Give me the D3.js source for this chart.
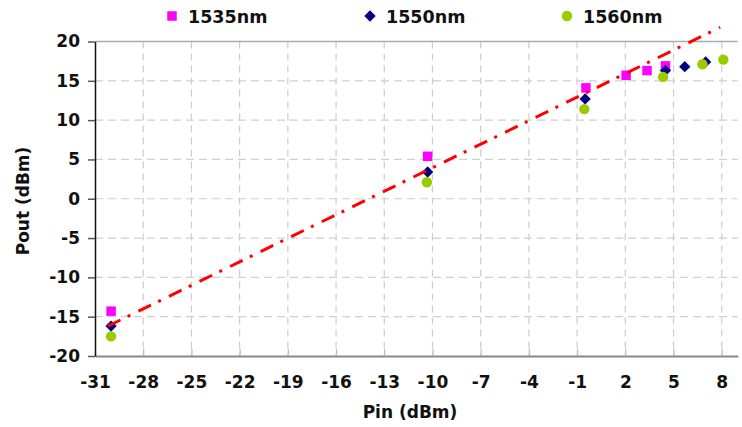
<!DOCTYPE html>
<html>
<head>
<meta charset="utf-8">
<script src="https://cdn.jsdelivr.net/npm/d3@7"></script>
<style>
  html, body { margin: 0; padding: 0; background: #fff; }
  svg text { font-family: "DejaVu Sans", Verdana, sans-serif; fill: #111; }
</style>
</head>
<body>
<svg id="chart" width="742" height="427"></svg>
<script>
// Input power ticks (dBm) and output power ticks (dBm)
const pinTicks = [-31, -28, -25, -22, -19, -16, -13, -10, -7, -4, -1, 2, 5, 8];
const poutTicks = [-20, -15, -10, -5, 0, 5, 10, 15, 20];

// Measured points per wavelength
const pin1535 = [-30.0, -10.3, -0.45, 2.05, 3.35, 4.5];
const pout1535 = [-14.3, 5.4, 14.1, 15.7, 16.3, 16.9];
const pin1550 = [-30.0, -10.3, -0.5, 4.5, 5.7, 7.0];
const pout1550 = [-16.2, 3.4, 12.7, 16.3, 16.8, 17.4];
const pin1560 = [-30.0, -10.35, -0.55, 4.35, 6.8, 8.1];
const pout1560 = [-17.5, 2.1, 11.4, 15.5, 17.1, 17.7];

// Small-signal linear trend
const trendPin = [-30.2, 7.9];
const trendPout = [-16.2, 21.8];

const seriesNames = ["1535nm", "1550nm", "1560nm"];
const seriesColors = ["#ff00ff", "#000080", "#99cc00"];
const seriesShapes = [d3.symbolSquare, d3.symbolSquare, d3.symbolCircle];
const seriesSizes = [90, 64, 85];
const seriesRotation = [0, 45, 0];

const series = [
  { pin: pin1535, pout: pout1535 },
  { pin: pin1550, pout: pout1550 },
  { pin: pin1560, pout: pout1560 }
];

const svg = d3.select("#chart");
const x = d3.scaleLinear().domain([-31, 9]).range([95, 737.8]);
const y = d3.scaleLinear().domain([-20, 20]).range([356, 41.5]);
const fmt = d => String(d);

// Grid
const grid = svg.append("g");
grid.selectAll("line.v").data(pinTicks.slice(1)).join("line")
  .attr("x1", d => x(d)).attr("x2", d => x(d))
  .attr("y1", y(20)).attr("y2", y(-20))
  .attr("stroke", "#cccccc").attr("stroke-width", 1.2)
  .attr("stroke-dasharray", "7,5");
grid.selectAll("line.h").data(poutTicks.slice(1, -1)).join("line")
  .attr("x1", x(-31)).attr("x2", x(9))
  .attr("y1", d => y(d)).attr("y2", d => y(d))
  .attr("stroke", "#d0d0d0").attr("stroke-width", 1.2)
  .attr("stroke-dasharray", "8,5");
// top border
svg.append("line")
  .attr("x1", x(-31)).attr("x2", x(9))
  .attr("y1", y(20)).attr("y2", y(20))
  .attr("stroke", "#aaa").attr("stroke-width", 1.5);

// X axis
const xAxis = svg.append("g").attr("transform", `translate(0,${y(-20)})`)
  .call(d3.axisBottom(x).tickValues(pinTicks).tickFormat(fmt).tickSizeInner(-7).tickSizeOuter(0).tickPadding(20));
xAxis.select(".domain").attr("stroke", "#888").attr("stroke-width", 2.2);
xAxis.selectAll(".tick line").attr("stroke", "#bbb").attr("stroke-width", 1.2);
xAxis.selectAll(".tick text").style("font-size", "17px").style("font-weight", "bold").attr("fill", "#111");

// Y axis
const yAxis = svg.append("g").attr("transform", `translate(${x(-31)},0)`)
  .call(d3.axisLeft(y).tickValues(poutTicks).tickFormat(fmt).tickSizeInner(7).tickSizeOuter(0).tickPadding(8));
yAxis.select(".domain").attr("stroke", "#111").attr("stroke-width", 1.5);
yAxis.selectAll(".tick line").attr("stroke", "#555").attr("stroke-width", 1.5);
yAxis.selectAll(".tick text").style("font-size", "17px").style("font-weight", "bold").attr("fill", "#111");

// Axis titles
svg.append("text").attr("x", 410).attr("y", 418).attr("text-anchor", "middle")
  .style("font-size", "17px").style("font-weight", "bold").text("Pin (dBm)");
svg.append("text").attr("transform", "translate(29,201) rotate(-90)").attr("text-anchor", "middle")
  .style("font-size", "17px").style("font-weight", "bold").text("Pout (dBm)");

// Markers
series.forEach((s, i) => {
  const sym = d3.symbol().type(seriesShapes[i]).size(seriesSizes[i]);
  svg.append("g").selectAll("path").data(s.pin.map((p, k) => [p, s.pout[k]])).join("path")
    .attr("d", sym)
    .attr("transform", d => `translate(${x(d[0])},${y(d[1])}) rotate(${seriesRotation[i]})`)
    .attr("fill", seriesColors[i]);
});

// Trend line
svg.append("path")
  .datum(trendPin.map((p, k) => [p, trendPout[k]]))
  .attr("d", d3.line().x(d => x(d[0])).y(d => y(d[1])))
  .attr("fill", "none").attr("stroke", "#ff0000").attr("stroke-width", 3)
  .attr("stroke-dasharray", "14,8,3,9");

// Legend
const legendX = [172, 370, 567];
seriesNames.forEach((name, i) => {
  const g = svg.append("g").attr("transform", `translate(${legendX[i]},16)`);
  g.append("path").attr("d", d3.symbol().type(seriesShapes[i]).size(seriesSizes[i])())
    .attr("transform", `rotate(${seriesRotation[i]})`)
    .attr("fill", seriesColors[i]);
  g.append("text").attr("x", 16).attr("y", 7).style("font-size", "17.5px").style("font-weight", "bold").text(name);
});
</script>
</body>
</html>
